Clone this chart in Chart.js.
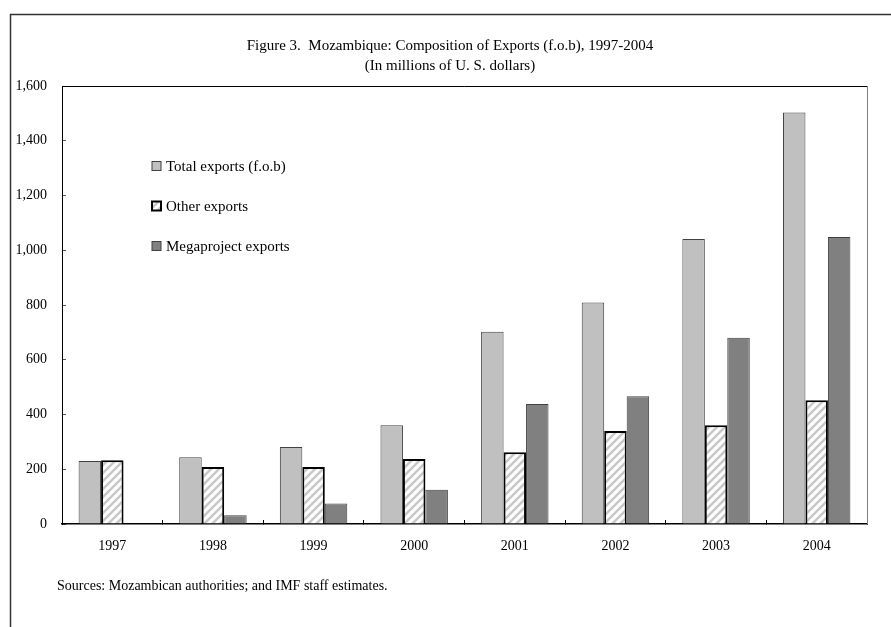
<!DOCTYPE html>
<html>
<head>
<meta charset="utf-8">
<script src="https://cdn.jsdelivr.net/npm/chart.js@4.4.1/dist/chart.umd.min.js"></script>
<style>
  html, body { margin: 0; padding: 0; background: #fff; }
  #wrap { width: 891px; height: 627px; position: relative; }
</style>
</head>
<body>
<div id="wrap"><canvas id="exportsChart"></canvas></div>
<script>
// ===== data =====
const years = ['1997', '1998', '1999', '2000', '2001', '2002', '2003', '2004'];
const totalExports = [230, 244, 281, 361, 702, 809, 1041, 1503];
const otherExports = [233, 208, 208, 237, 262, 340, 361, 452];
const megaExports = [0, 32, 75, 125, 438, 467, 680, 1048];
const yTicks = [0, 200, 400, 600, 800, 1000, 1200, 1400, 1600];

const titleText = 'Figure 3.  Mozambique: Composition of Exports (f.o.b), 1997-2004';
const subtitleText = '(In millions of U. S. dollars)';
const sourceText = 'Sources: Mozambican authorities; and IMF staff estimates.';

const serif = '"Liberation Serif", "Times New Roman", serif';

// ===== hatch pattern for "Other exports" =====
function makeHatch() {
  const c = document.createElement('canvas');
  c.width = 8; c.height = 8;
  const g = c.getContext('2d');
  g.fillStyle = '#fff';
  g.fillRect(0, 0, 8, 8);
  g.strokeStyle = '#c8c8c8';
  g.lineWidth = 2.5;
  g.beginPath();
  g.moveTo(-2, 10); g.lineTo(10, -2);
  g.moveTo(-2, 2); g.lineTo(2, -2);
  g.moveTo(6, 10); g.lineTo(10, 6);
  g.stroke();
  return g.createPattern(c, 'repeat');
}
const hatch = makeHatch();

// ===== frame, titles, legend, footnote =====
const decorPlugin = {
  id: 'decor',
  beforeDraw(chart) {
    const ctx = chart.ctx;
    ctx.save();
    ctx.fillStyle = '#fff';
    ctx.fillRect(0, 0, chart.width, chart.height);
    // outer frame (runs off the right and bottom edges)
    ctx.strokeStyle = '#333';
    ctx.lineWidth = 1.5;
    ctx.beginPath();
    ctx.moveTo(10.5, chart.height);
    ctx.lineTo(10.5, 14.5);
    ctx.lineTo(chart.width, 14.5);
    ctx.stroke();
    ctx.restore();
  },
  afterDraw(chart) {
    const ctx = chart.ctx;
    const a = chart.chartArea;
    ctx.save();
    // plot box top + right
    ctx.lineWidth = 1;
    ctx.strokeStyle = '#000';
    ctx.beginPath();
    ctx.moveTo(a.left, Math.round(a.top) + 0.5);
    ctx.lineTo(Math.round(a.right) + 0.5, Math.round(a.top) + 0.5);
    ctx.stroke();
    ctx.strokeStyle = '#808080';
    ctx.beginPath();
    ctx.moveTo(Math.round(a.right) + 0.5, a.top);
    ctx.lineTo(Math.round(a.right) + 0.5, a.bottom);
    ctx.stroke();

    // titles
    ctx.fillStyle = '#000';
    ctx.textAlign = 'center';
    ctx.textBaseline = 'middle';
    ctx.font = '15px ' + serif;
    ctx.fillText(titleText, 450, 46);
    ctx.fillText(subtitleText, 450, 66);

    // legend
    ctx.textAlign = 'left';
    ctx.font = '15px ' + serif;
    chart.data.datasets.forEach((ds, i) => {
      const y = 166 + i * 40;
      ctx.fillStyle = ds.backgroundColor;
      ctx.fillRect(152, y - 4.5, 9, 9);
      ctx.strokeStyle = ds.borderColor;
      ctx.lineWidth = ds.borderWidth;
      ctx.strokeRect(152, y - 4.5, 9, 9);
      ctx.fillStyle = '#000';
      ctx.fillText(ds.label, 166, y + 1);
    });

    // footnote
    ctx.font = '14px ' + serif;
    ctx.fillText(sourceText, 57, 586);
    ctx.restore();
  }
};

new Chart(document.getElementById('exportsChart'), {
  type: 'bar',
  data: {
    labels: years,
    datasets: [
      {
        label: 'Total exports (f.o.b)',
        data: totalExports,
        backgroundColor: '#c0c0c0',
        borderColor: '#404040',
        borderWidth: 1
      },
      {
        label: 'Other exports',
        data: otherExports,
        backgroundColor: hatch,
        borderColor: '#000',
        borderWidth: 2
      },
      {
        label: 'Megaproject exports',
        data: megaExports,
        backgroundColor: '#808080',
        borderColor: '#404040',
        borderWidth: 1
      }
    ]
  },
  options: {
    responsive: true,
    maintainAspectRatio: false,
    animation: false,
    layout: { padding: { left: 12, right: 24, top: 86, bottom: 63 } },
    datasets: {
      bar: { barPercentage: 1, categoryPercentage: 0.67, borderSkipped: 'bottom' }
    },
    plugins: {
      legend: { display: false },
      tooltip: { enabled: false }
    },
    scales: {
      x: {
        afterFit: s => { s.height = 40; },
        grid: {
          offset: true,
          drawOnChartArea: false,
          drawTicks: true,
          tickLength: -4,
          color: '#000'
        },
        border: { display: true, color: '#000', width: 1.5 },
        ticks: { color: '#000', padding: 18, font: { family: serif, size: 14 } }
      },
      y: {
        min: 0,
        max: 1600,
        afterFit: s => { s.width = 50; },
        afterBuildTicks: s => { s.ticks = yTicks.map(v => ({ value: v })); },
        grid: {
          drawOnChartArea: false,
          drawTicks: true,
          tickLength: -4,
          color: '#555'
        },
        border: { display: true, color: '#000', width: 1 },
        ticks: {
          color: '#000',
          padding: 19,
          font: { family: serif, size: 14 },
          callback: v => v.toLocaleString('en-US')
        }
      }
    }
  },
  plugins: [decorPlugin]
});
</script>
</body>
</html>
